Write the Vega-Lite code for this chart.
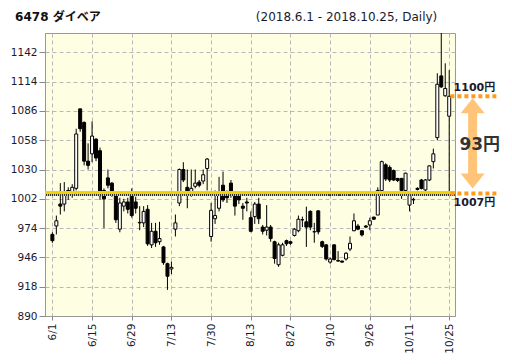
{
  "$schema": "https://vega.github.io/schema/vega-lite/v6.json",
  "autosize": {"type": "none"},
  "padding": {"left": 45, "top": 33, "right": 57, "bottom": 48},
  "width": 410,
  "height": 283,
  "background": "white",
  "config": {
    "font": "DejaVu Sans, Noto Sans CJK JP",
    "view": {"fill": "#FEFEE2", "stroke": "#999999", "strokeWidth": 1}
  },
  "datasets": {
    "candles": [
      {"i":0,"d":"6/1","o":968,"h":970,"l":960,"c":962},
      {"i":1,"d":"6/4","o":976,"h":986,"l":968,"c":981},
      {"i":2,"d":"6/5","o":997,"h":1017,"l":987,"c":995},
      {"i":3,"d":"6/6","o":997,"h":1018,"l":990,"c":1008},
      {"i":4,"d":"6/7","o":1010,"h":1013,"l":1001,"c":1006},
      {"i":5,"d":"6/8","o":1006,"h":1016,"l":1003,"c":1013},
      {"i":6,"d":"6/11","o":1012,"h":1069,"l":1010,"c":1064},
      {"i":7,"d":"6/12","o":1088,"h":1088,"l":1066,"c":1069},
      {"i":8,"d":"6/13","o":1075,"h":1076,"l":1034,"c":1038},
      {"i":9,"d":"6/14","o":1038,"h":1055,"l":1030,"c":1034},
      {"i":10,"d":"6/15","o":1045,"h":1076,"l":1037,"c":1062},
      {"i":11,"d":"6/18","o":1059,"h":1060,"l":1038,"c":1041},
      {"i":12,"d":"6/19","o":1048,"h":1051,"l":1001,"c":1005},
      {"i":13,"d":"6/20","o":1010,"h":1012,"l":974,"c":1002},
      {"i":14,"d":"6/21","o":1022,"h":1030,"l":1012,"c":1015},
      {"i":15,"d":"6/22","o":1017,"h":1018,"l":1004,"c":1006},
      {"i":16,"d":"6/25","o":1006,"h":1008,"l":979,"c":982},
      {"i":17,"d":"6/26","o":973,"h":1003,"l":970,"c":998},
      {"i":18,"d":"6/27","o":995,"h":1002,"l":990,"c":999},
      {"i":19,"d":"6/28","o":999,"h":1003,"l":988,"c":992},
      {"i":20,"d":"6/29","o":1005,"h":1012,"l":984,"c":986},
      {"i":21,"d":"7/2","o":999,"h":1004,"l":988,"c":993},
      {"i":22,"d":"7/3","o":979,"h":995,"l":972,"c":979.5},
      {"i":23,"d":"7/4","o":979,"h":995,"l":975,"c":990},
      {"i":24,"d":"7/5","o":992,"h":996,"l":957,"c":959},
      {"i":25,"d":"7/6","o":958,"h":979,"l":955,"c":971},
      {"i":26,"d":"7/9","o":971,"h":979,"l":956,"c":960},
      {"i":27,"d":"7/10","o":961,"h":980,"l":958,"c":964},
      {"i":28,"d":"7/11","o":956,"h":957,"l":939,"c":941},
      {"i":29,"d":"7/12","o":940,"h":941,"l":915,"c":928},
      {"i":30,"d":"7/13","o":935,"h":942,"l":930,"c":936.5},
      {"i":31,"d":"7/17","o":973,"h":987,"l":966,"c":979},
      {"i":32,"d":"7/18","o":998,"h":1031,"l":995,"c":1030},
      {"i":33,"d":"7/19","o":1030,"h":1037,"l":1018,"c":1020},
      {"i":34,"d":"7/20","o":1013,"h":1030,"l":993,"c":1008},
      {"i":35,"d":"7/23","o":1006,"h":1030,"l":1004,"c":1012},
      {"i":36,"d":"7/24","o":1014,"h":1030,"l":1012,"c":1017},
      {"i":37,"d":"7/25","o":1018,"h":1020,"l":1013,"c":1015},
      {"i":38,"d":"7/26","o":1019,"h":1030,"l":1016,"c":1025},
      {"i":39,"d":"7/27","o":1031,"h":1041,"l":1010,"c":1040},
      {"i":40,"d":"7/30","o":966,"h":998,"l":961,"c":991},
      {"i":41,"d":"7/31","o":983,"h":1010,"l":978,"c":986},
      {"i":42,"d":"8/1","o":993,"h":1023,"l":990,"c":1006},
      {"i":43,"d":"8/2","o":1015,"h":1028,"l":999,"c":1001},
      {"i":44,"d":"8/3","o":1006,"h":1010,"l":998,"c":1003},
      {"i":45,"d":"8/6","o":1017,"h":1020,"l":1003,"c":1008},
      {"i":46,"d":"8/7","o":1006,"h":1009,"l":986,"c":995},
      {"i":47,"d":"8/8","o":1006,"h":1008,"l":997,"c":1001},
      {"i":48,"d":"8/9","o":995,"h":998,"l":982,"c":993},
      {"i":49,"d":"8/10","o":999,"h":1003,"l":990,"c":998},
      {"i":50,"d":"8/13","o":984,"h":990,"l":970,"c":971},
      {"i":51,"d":"8/14","o":985,"h":999,"l":978,"c":997},
      {"i":52,"d":"8/15","o":997,"h":1003,"l":978,"c":983},
      {"i":53,"d":"8/16","o":975,"h":977,"l":968,"c":971},
      {"i":54,"d":"8/17","o":972,"h":996,"l":967,"c":975},
      {"i":55,"d":"8/20","o":975,"h":977,"l":961,"c":964},
      {"i":56,"d":"8/21","o":961,"h":962,"l":940,"c":945},
      {"i":57,"d":"8/22","o":939,"h":960,"l":937,"c":958},
      {"i":58,"d":"8/23","o":948,"h":960,"l":947,"c":958},
      {"i":59,"d":"8/24","o":962,"h":963,"l":957,"c":959},
      {"i":60,"d":"8/27","o":961,"h":962,"l":958,"c":959.5},
      {"i":61,"d":"8/28","o":967,"h":974,"l":966,"c":973},
      {"i":62,"d":"8/29","o":971.5,"h":986,"l":970,"c":982.5},
      {"i":63,"d":"8/30","o":982,"h":985,"l":975,"c":982},
      {"i":64,"d":"8/31","o":980,"h":994.5,"l":956,"c":975},
      {"i":65,"d":"9/3","o":990,"h":991,"l":972,"c":975},
      {"i":66,"d":"9/4","o":970.5,"h":979,"l":960,"c":970.5},
      {"i":67,"d":"9/5","o":990.5,"h":991,"l":968,"c":970.5},
      {"i":68,"d":"9/6","o":961,"h":962,"l":955,"c":956.5},
      {"i":69,"d":"9/7","o":958,"h":958.5,"l":943,"c":944.5},
      {"i":70,"d":"9/10","o":941.5,"h":946,"l":940,"c":944.5},
      {"i":71,"d":"9/11","o":958,"h":958.5,"l":943,"c":944},
      {"i":72,"d":"9/12","o":943,"h":952,"l":942,"c":942.5},
      {"i":73,"d":"9/13","o":942.5,"h":943,"l":941,"c":941.5},
      {"i":74,"d":"9/14","o":944.5,"h":951,"l":943,"c":950},
      {"i":75,"d":"9/18","o":954,"h":966,"l":952,"c":959.5},
      {"i":76,"d":"9/19","o":971.5,"h":988,"l":971,"c":981},
      {"i":77,"d":"9/20","o":976,"h":978,"l":972,"c":973},
      {"i":78,"d":"9/21","o":971.5,"h":972,"l":966,"c":967.5},
      {"i":79,"d":"9/25","o":976,"h":977,"l":974,"c":975},
      {"i":80,"d":"9/26","o":977,"h":984,"l":972,"c":981},
      {"i":81,"d":"9/27","o":984.5,"h":985,"l":982,"c":982.5},
      {"i":82,"d":"9/28","o":986.5,"h":1013,"l":986.5,"c":1010},
      {"i":83,"d":"10/1","o":1010,"h":1038.5,"l":1009.5,"c":1037.5},
      {"i":84,"d":"10/2","o":1034.5,"h":1036,"l":1019,"c":1021},
      {"i":85,"d":"10/3","o":1032,"h":1034,"l":1018,"c":1020},
      {"i":86,"d":"10/4","o":1029,"h":1030,"l":1019,"c":1020},
      {"i":87,"d":"10/5","o":1021.5,"h":1022,"l":1018,"c":1019.5},
      {"i":88,"d":"10/9","o":1021.5,"h":1022,"l":1002,"c":1010},
      {"i":89,"d":"10/10","o":1010,"h":1027,"l":1008,"c":1026.5},
      {"i":90,"d":"10/11","o":996,"h":1006,"l":990,"c":1005.5},
      {"i":91,"d":"10/12","o":1001,"h":1003,"l":997,"c":1001.5},
      {"i":92,"d":"10/15","o":1012,"h":1013,"l":1010,"c":1011},
      {"i":93,"d":"10/16","o":1020,"h":1021,"l":1011,"c":1012},
      {"i":94,"d":"10/17","o":1010.5,"h":1021,"l":1009,"c":1020},
      {"i":95,"d":"10/18","o":1020,"h":1034,"l":1019,"c":1033.5},
      {"i":96,"d":"10/19","o":1037.5,"h":1050,"l":1031,"c":1045},
      {"i":97,"d":"10/22","o":1060.5,"h":1122,"l":1058,"c":1111.5},
      {"i":98,"d":"10/23","o":1119.5,"h":1175,"l":1108,"c":1109},
      {"i":99,"d":"10/24","o":1100.5,"h":1131.5,"l":1099.5,"c":1107.5},
      {"i":100,"d":"10/25","o":1081,"h":1125,"l":1007,"c":1100}
    ],
    "levels": [
      {"price": 1100, "label": "1100円"},
      {"price": 1007, "label": "1007円"}
    ]
  },
  "data": {"name": "candles"},
  "encoding": {
    "y": {
      "type": "quantitative",
      "scale": {"domain": [890, 1160.5], "nice": false, "zero": false},
      "axis": {
        "title": null, "format": "d",
        "values": [890,918,946,974,1002,1030,1058,1086,1114,1142],
        "labelPadding": 2, "labelFontSize": 10.5, "labelFont": "DejaVu Sans", "labelColor": "#1a1a2e",
        "grid": true, "gridDash": [4, 3], "gridColor": "#b8b8b8",
        "tickSize": 6, "tickColor": "#888888", "domainColor": "#999999"
      }
    }
  },
  "layer": [
    {
      "mark": {"type": "rule", "color": "black", "strokeWidth": 1, "clip": true},
      "encoding": {
        "x": {
          "field": "i", "type": "quantitative",
          "scale": {"domain": [-0.6, 100.2], "nice": false, "zero": false},
          "axis": {
            "title": null,
            "values": [0,5,10,15,20,25,30,35,40,45,50,55,60,65,70,75,80,85,90,95,100],
            "labelExpr": "datum.value % 10 == 0 ? ['6/1','6/15','6/29','7/13','7/30','8/13','8/27','9/10','9/26','10/11','10/25'][datum.value / 10] : ''",
            "labelAngle": 270, "labelAlign": "right", "labelBaseline": "middle",
            "labelPadding": 3, "labelFontSize": 10.5, "labelFont": "DejaVu Sans", "labelColor": "#1a1a2e",
            "labelOverlap": false, "labelFlush": false,
            "grid": true, "gridDash": [4, 3], "gridColor": "#b8b8b8",
            "tickSize": 4, "tickColor": "#888888", "domainColor": "#999999"
          }
        },
        "y": {"field": "l"}, "y2": {"field": "h"}
      }
    },
    {
      "mark": {"type": "bar", "width": 3, "stroke": "black", "strokeWidth": 1, "clip": true},
      "encoding": {
        "x": {"field": "i", "type": "quantitative"},
        "y": {"field": "o"}, "y2": {"field": "c"},
        "color": {"condition": {"test": "datum.c >= datum.o", "value": "white"}, "value": "black"}
      }
    },
    {
      "mark": {"type": "rule", "color": "#F2D200", "strokeWidth": 5, "opacity": 0.9},
      "encoding": {"y": {"datum": 1007}}
    },
    {
      "mark": {"type": "rule", "color": "#333333", "strokeWidth": 1, "strokeDash": [1, 1], "yOffset": 1.5},
      "encoding": {"y": {"datum": 1007}}
    },
    {
      "data": {"name": "levels"},
      "mark": {"type": "rule", "color": "#FF9A1A", "strokeWidth": 4, "strokeDash": [4, 3], "clip": false},
      "encoding": {"x": {"datum": 100.3}, "x2": {"datum": 112}, "y": {"field": "price"}}
    },
    {
      "data": {"name": "levels"},
      "transform": [{"filter": "datum.price == 1100"}],
      "mark": {"type": "text", "align": "left", "baseline": "middle", "dy": -8, "fontSize": 11, "fontWeight": "bold", "color": "#1a1a2e", "font": "DejaVu Sans, Noto Sans CJK JP", "clip": false},
      "encoding": {"x": {"datum": 101.1}, "y": {"field": "price"}, "text": {"field": "label"}}
    },
    {
      "data": {"name": "levels"},
      "transform": [{"filter": "datum.price == 1007"}],
      "mark": {"type": "text", "align": "left", "baseline": "middle", "dy": 9, "fontSize": 11, "fontWeight": "bold", "color": "#1a1a2e", "font": "DejaVu Sans, Noto Sans CJK JP", "clip": false},
      "encoding": {"x": {"datum": 101.1}, "y": {"field": "price"}, "text": {"field": "label"}}
    },
    {
      "data": {"values": [{"lo": 1019, "hi": 1091}]},
      "mark": {"type": "rule", "color": "#FFC477", "strokeWidth": 9, "clip": false},
      "encoding": {"x": {"datum": 105.9}, "y": {"field": "lo"}, "y2": {"field": "hi"}}
    },
    {
      "data": {"values": [{"p": 1091}]},
      "mark": {"type": "point", "filled": true, "color": "#FFC477", "opacity": 1, "size": 576, "shape": "M-1,0.625L0,-0.625L1,0.625Z", "clip": false},
      "encoding": {"x": {"datum": 105.9}, "y": {"field": "p"}}
    },
    {
      "data": {"values": [{"p": 1019}]},
      "mark": {"type": "point", "filled": true, "color": "#FFC477", "opacity": 1, "size": 576, "shape": "M-1,-0.625L0,0.625L1,-0.625Z", "clip": false},
      "encoding": {"x": {"datum": 105.9}, "y": {"field": "p"}}
    },
    {
      "data": {"values": [{"t": "93円", "mid": 1053.5}]},
      "mark": {"type": "text", "align": "center", "baseline": "middle", "fontSize": 17, "fontWeight": "bold", "color": "#333333", "font": "DejaVu Sans, Noto Sans CJK JP", "clip": false},
      "encoding": {"x": {"datum": 107.7}, "y": {"field": "mid"}, "text": {"field": "t"}}
    },
    {
      "data": {"values": [{"t": "6478  ダイベア"}]},
      "mark": {"type": "text", "align": "left", "baseline": "alphabetic", "fontSize": 12, "fontWeight": "bold", "color": "#111111", "font": "DejaVu Sans, Noto Sans CJK JP", "clip": false},
      "encoding": {"x": {"datum": -9.4}, "y": {"datum": 1172}, "text": {"field": "t"}}
    },
    {
      "data": {"values": [{"t": "(2018.6.1 - 2018.10.25, Daily)"}]},
      "mark": {"type": "text", "align": "right", "baseline": "alphabetic", "fontSize": 12, "color": "#1a1a2e", "font": "DejaVu Sans", "clip": false},
      "encoding": {"x": {"datum": 97}, "y": {"datum": 1172}, "text": {"field": "t"}}
    }
  ]
}
